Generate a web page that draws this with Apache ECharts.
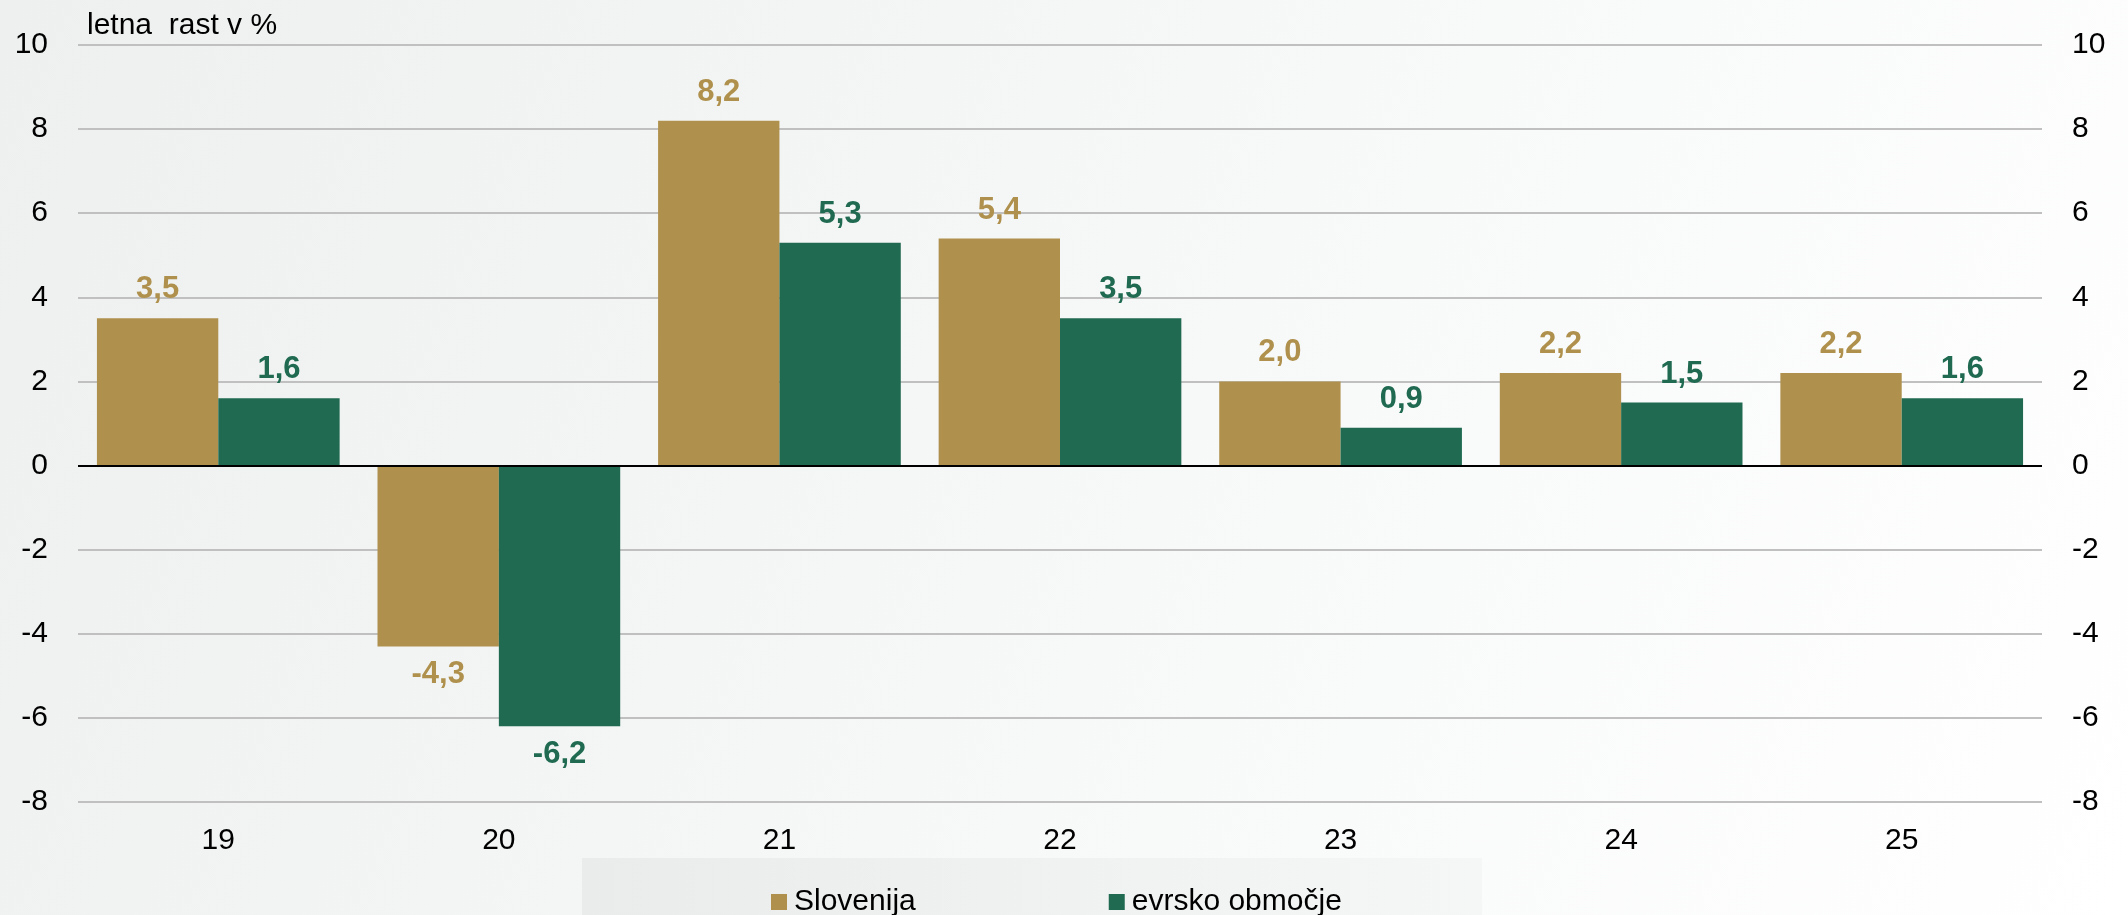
<!DOCTYPE html>
<html>
<head>
<meta charset="utf-8">
<script src="https://cdn.jsdelivr.net/npm/echarts@6/dist/echarts.min.js"></script>
<style>
  html, body { margin: 0; padding: 0; }
  #chart { width: 2128px; height: 915px; }
</style>
</head>
<body>
<div id="chart"></div>
<script>
  // podatki
  const categories = ['19', '20', '21', '22', '23', '24', '25'];
  const slovenija = [3.5, -4.3, 8.2, 5.4, 2.0, 2.2, 2.2];
  const evrsko = [1.6, -6.2, 5.3, 3.5, 0.9, 1.5, 1.6];
  const seriesNames = ['Slovenija', 'evrsko območje'];
  const colors = ['#af914d', '#1f6a51'];

  const font = "'Liberation Sans', Arial, sans-serif";

  function fmt(p) {
    return p.value.toFixed(1).replace('.', ',');
  }

  function barData(values) {
    return values.map(function (v) {
      return {value: v, label: {position: v < 0 ? 'bottom' : 'top'}};
    });
  }

  function yAxisDef(pos) {
    return {
      type: 'value',
      position: pos,
      min: -8,
      max: 10,
      interval: 2,
      axisLine: {show: false},
      axisTick: {show: false},
      axisLabel: {
        color: '#000',
        fontSize: 30,
        fontFamily: font,
        margin: 30
      },
      splitLine: {
        show: pos === 'left',
        lineStyle: {color: '#c0c0c0', width: 2}
      }
    };
  }

  const chart = echarts.init(document.getElementById('chart'));
  const option = {
    animation: false,
    backgroundColor: {
      type: 'linear', x: 0, y: 0, x2: 1, y2: 1,
      colorStops: [
        {offset: 0, color: '#edf0ef'},
        {offset: 0.6, color: '#f8f9f9'},
        {offset: 1, color: '#ffffff'}
      ]
    },
    color: colors,
    title: {
      text: 'letna  rast v %',
      left: 82,
      top: 6,
      textStyle: {
        color: '#000',
        fontSize: 30,
        fontWeight: 'normal',
        fontFamily: font
      }
    },
    graphic: [{
      type: 'rect',
      left: 582,
      top: 858,
      shape: {width: 900, height: 57},
      style: {
        fill: {
          type: 'linear', x: 0, y: 0, x2: 1, y2: 0,
          colorStops: [
            {offset: 0, color: '#e9eceb'},
            {offset: 1, color: '#f5f7f6'}
          ]
        }
      },
      z: -1
    }],
    legend: {
      data: seriesNames,
      left: 766,
      top: 882,
      itemWidth: 16,
      itemHeight: 16,
      itemGap: 193,
      icon: 'rect',
      textStyle: {
        color: '#000',
        fontSize: 30,
        fontFamily: font,
        padding: [0, 0, 0, 2]
      }
    },
    grid: {
      left: 78,
      right: 86,
      top: 45,
      bottom: 113,
      containLabel: false
    },
    xAxis: {
      type: 'category',
      data: categories,
      axisLine: {show: false, onZero: false},
      axisTick: {show: false},
      axisLabel: {
        color: '#000',
        fontSize: 30,
        fontFamily: font,
        margin: 24
      }
    },
    yAxis: [yAxisDef('left'), yAxisDef('right')],
    series: [
      {
        name: seriesNames[0],
        type: 'bar',
        data: barData(slovenija),
        barGap: '0%',
        barCategoryGap: '13.5%',
        label: {
          show: true,
          distance: 13,
          formatter: fmt,
          color: colors[0],
          fontSize: 31,
          fontWeight: 'bold',
          fontFamily: font
        },
        markLine: {
          silent: true,
          symbol: 'none',
          label: {show: false},
          lineStyle: {color: '#000', width: 2, type: 'solid'},
          data: [{yAxis: 0}]
        }
      },
      {
        name: seriesNames[1],
        type: 'bar',
        data: barData(evrsko),
        label: {
          show: true,
          distance: 13,
          formatter: fmt,
          color: colors[1],
          fontSize: 31,
          fontWeight: 'bold',
          fontFamily: font
        }
      }
    ]
  };
  chart.setOption(option);
</script>
</body>
</html>
